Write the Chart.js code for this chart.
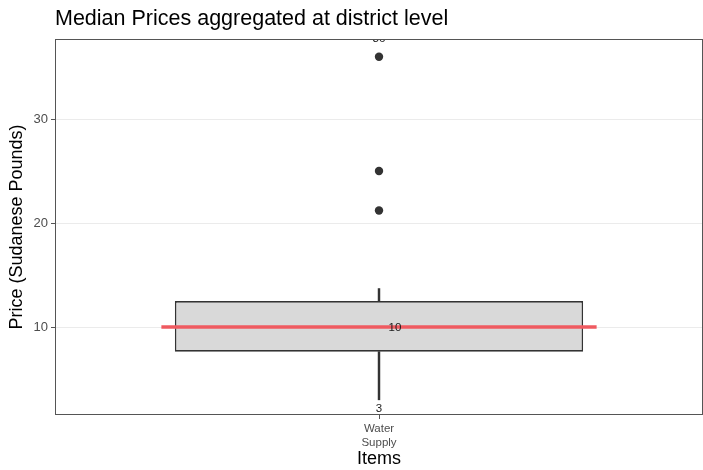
<!DOCTYPE html>
<html><head><meta charset="utf-8">
<script src="https://cdn.jsdelivr.net/npm/chart.js@4/dist/chart.umd.min.js"></script>
<style>html,body{margin:0;padding:0;background:#fff}#wrap{width:703px;height:470px}</style>
</head><body><div id="wrap"><canvas id="c" width="703" height="470"></canvas></div>
<script>
// ---- data ----
const categories = [['Water', 'Supply']];
const boxQ1 = [7.63];
const boxQ3 = [12.5];
const whiskerMin = [3];
const whiskerMax = [13.7];
const medians = [10];
const outliers = [21.2, 25, 36];
const yTicks = [10, 20, 30];
const labelValues = [36, 10, 3];
const yRange = [1.54, 37.7];
const xRange = [0.4, 1.6];
const medianSpan = [0.597, 1.403];

Chart.defaults.font.family = "'Liberation Sans', Arial, sans-serif";

const panelPlugin = {
  id: 'panel',
  afterDatasetsDraw(chart) {
    const {ctx, chartArea: a, scales} = chart;
    ctx.save();
    ctx.beginPath();
    ctx.rect(a.left, a.top, a.right - a.left, a.bottom - a.top);
    ctx.clip();
    ctx.fillStyle = '#1a1a1a';
    ctx.font = "11.5px 'Liberation Sans', Arial, sans-serif";
    ctx.textAlign = 'center';
    ctx.textBaseline = 'middle';
    const xc = scales.x2.getPixelForValue(1);
    ctx.fillText(String(labelValues[0]), xc, scales.y.getPixelForValue(labelValues[0]) - 18);
    ctx.fillText(String(labelValues[1]), xc + 16, scales.y.getPixelForValue(labelValues[1]) + 1);
    ctx.fillText(String(labelValues[2]), xc, scales.y.getPixelForValue(labelValues[2]) + 9);
    ctx.restore();
    ctx.save();
    ctx.strokeStyle = '#555555';
    ctx.lineWidth = 1;
    ctx.strokeRect(a.left + 0.5, a.top + 0.5, a.right - a.left - 1, a.bottom - a.top - 1);
    ctx.restore();
  }
};

new Chart(document.getElementById('c'), {
  type: 'bar',
  data: {
    labels: categories,
    datasets: [
      {
        type: 'line', label: 'median', xAxisID: 'x2', order: 0,
        data: medianSpan.map(x => ({x: x, y: medians[0]})),
        borderColor: '#ef5a60', borderWidth: 3.5, pointRadius: 0, fill: false
      },
      {
        type: 'scatter', label: 'outliers', xAxisID: 'x2', order: 1,
        data: outliers.map(v => ({x: 1, y: v})),
        backgroundColor: '#333333', borderColor: '#333333', pointRadius: 4.2, borderWidth: 0
      },
      {
        label: 'box', order: 2, grouped: false,
        data: boxQ1.map((q, i) => [q, boxQ3[i]]),
        backgroundColor: '#d9d9d9', borderColor: '#333333', borderWidth: 1.6, borderSkipped: false,
        barPercentage: 0.63, categoryPercentage: 1
      },
      {
        label: 'lower whisker', order: 3, grouped: false,
        data: whiskerMin.map((m, i) => [m, boxQ1[i]]),
        backgroundColor: '#333333', borderWidth: 0, barThickness: 1.8
      },
      {
        label: 'upper whisker', order: 3, grouped: false,
        data: whiskerMax.map((m, i) => [boxQ3[i], m]),
        backgroundColor: '#333333', borderWidth: 0, barThickness: 1.8
      }
    ]
  },
  options: {
    responsive: false, animation: false, devicePixelRatio: 1,
    layout: {autoPadding: false, padding: {top: 0, right: 0, bottom: 0, left: 0}},
    plugins: {
      legend: {display: false}, tooltip: {enabled: false},
      title: {
        display: true, text: 'Median Prices aggregated at district level', align: 'start', fullSize: false,
        color: '#000', font: {size: 21.5, weight: 'normal', lineHeight: 1.2}, padding: {top: 6.3, bottom: 6.9}
      }
    },
    scales: {
      x: {
        type: 'category', offset: true,
        afterFit: s => { s.height = 55; s.paddingLeft = 0; s.paddingRight = 0; },
        grid: {display: true, drawOnChartArea: false, offset: false, tickColor: '#555555', tickLength: 4},
        border: {display: false},
        ticks: {color: '#4d4d4d', font: {size: 11.5, lineHeight: 1.2}, padding: 3, maxRotation: 0},
        title: {display: true, text: 'Items', color: '#000', font: {size: 18}, padding: {top: 0, bottom: 0.5}}
      },
      x2: {type: 'linear', display: false, offset: false, min: xRange[0], max: xRange[1]},
      y: {
        type: 'linear', min: yRange[0], max: yRange[1],
        afterBuildTicks: s => { s.ticks = yTicks.map(v => ({value: v})); },
        afterFit: s => { s.width = 55; },
        grid: {color: '#ebebeb', tickColor: '#555555', tickLength: 4, lineWidth: 1},
        border: {display: false},
        ticks: {color: '#4d4d4d', font: {size: 13}, padding: 3},
        title: {display: true, text: 'Price (Sudanese Pounds)', color: '#000', font: {size: 18}, padding: {top: 6.7, bottom: 0}}
      }
    }
  },
  plugins: [panelPlugin]
});
</script>
</body></html>
